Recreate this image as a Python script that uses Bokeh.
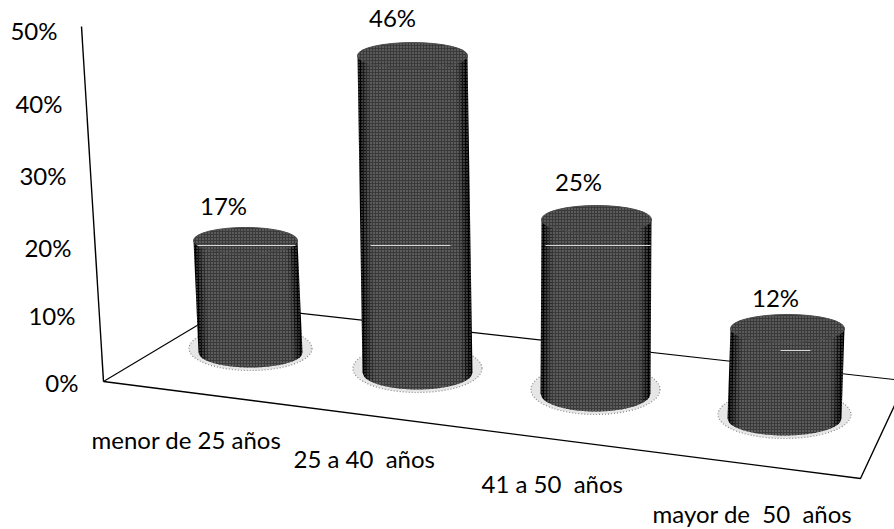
import numpy as np
from bokeh.core.properties import value
from bokeh.embed import file_html
from bokeh.models import Range1d
from bokeh.plotting import figure
from bokeh.resources import INLINE

# Chart data
categories = ["menor de 25 años", "25 a 40 \u00a0años", "41 a 50 \u00a0años", "mayor de \u00a050 \u00a0años"]
percent = [17, 46, 25, 12]
tick_labels = ["0%", "10%", "20%", "30%", "40%", "50%"]

# Perspective of the 3D scene, in page pixels
base_cx = [250, 417, 595, 784]
top_cx = [245, 412, 596, 787]
half_w = [52, 55, 55, 57]
base_cy = [352, 372, 393, 418]
px_per_pct = [6.59, 6.89, 6.96, 7.5]
top_ry = [13, 13, 14, 14]
base_ry = [15, 17, 18, 17]
tick_x = [78, 75, 71, 66, 62, 57]
tick_y = [382, 315, 247, 175, 103, 30]
label_x = [223, 392, 578, 775]
label_y = [205, 17, 181, 297]
cat_x = [91, 293, 481, 652]
cat_y = [439, 458, 483, 513]
glint_y = [245, 245, 245, 350]
glint_x0 = [197, 370, 545, 780]
glint_x1 = [295, 450, 650, 810]

FONT = value("Lato")
INK = "#000000"

p = figure(width=894, height=529, output_backend="svg", toolbar_location=None,
           x_range=Range1d(0, 894), y_range=Range1d(529, 0),
           x_axis_type=None, y_axis_type=None, min_border=0, outline_line_color=None)
p.grid.visible = False
p.background_fill_color = "white"
p.border_fill_color = "white"

# Wall edge and floor outline
p.line([81, 103], [26, 381], line_color=INK, line_width=1.4)
p.line([103, 860, 894], [381, 478, 405], line_color=INK, line_width=1.4)
p.line([103, 230], [381, 305], line_color=INK, line_width=1.1)
p.line([230, 894], [305, 379], line_color=INK, line_width=1.1)

# Grey level of each vertical strip, left to right across a cylinder
shades = [0.0, 0.1, 0.18] + [0.23] * 24 + [0.18, 0.08, 0.0]

for i, pct in enumerate(percent):
    yb = base_cy[i]
    yt = yb - pct * px_per_pct[i]
    hw = half_w[i]

    # Stippled shadow ring on the floor
    p.ellipse(x=base_cx[i], y=yb - 4, width=2 * hw + 19, height=2 * base_ry[i] + 14,
              fill_color="#e6e6e6", line_color="#8a8a8a", line_dash="1 2", line_width=1.2)

    # Cylinder body, drawn as vertical strips to shade it across its width
    n = len(shades)
    edges = np.linspace(-1, 1, n + 1)
    for k, shade in enumerate(shades):
        u0, u1 = edges[k], min(edges[k + 1] + 0.02, 1)
        us = np.linspace(u0, u1, 4)
        xb = base_cx[i] + us * hw
        yb_arc = yb + base_ry[i] * np.sqrt(np.clip(1 - us ** 2, 0, 1))
        xt = top_cx[i] + us * hw
        g = int(shade * 255)
        color = f"#{g:02x}{g:02x}{g:02x}"
        p.patch(list(xt) + list(xb[::-1]), [yt] * 4 + list(yb_arc[::-1]),
                fill_color=color, line_color=None)

    # Fine halftone dots over the body
    us = np.linspace(-1, 1, 41)
    xs = list(top_cx[i] + us * hw) + list(base_cx[i] + us[::-1] * hw)
    ys = [yt] * 41 + list(yb + base_ry[i] * np.sqrt(1 - us[::-1] ** 2))
    p.patch(xs, ys, fill_alpha=0, line_color=None, hatch_pattern="dot",
            hatch_color="#e4e4e4", hatch_scale=3, hatch_alpha=0.5, hatch_weight=1)

    # Cylinder cap
    p.ellipse(x=top_cx[i], y=yt, width=2 * hw, height=2 * top_ry[i],
              fill_color="#3a3a3a", line_color="#4a4a4a", line_width=1,
              hatch_pattern="dot", hatch_color="#d8d8d8", hatch_scale=3, hatch_alpha=0.5)

    # Gridline glinting through the cylinder
    p.line([glint_x0[i], glint_x1[i]], [glint_y[i], glint_y[i]], line_color="#d8d8d8", line_width=1)

text_style = dict(text_font=FONT, text_font_size="24px", text_color=INK)

p.text(x=tick_x, y=tick_y, text=tick_labels, text_align="right", text_baseline="middle", **text_style)
p.text(x=label_x, y=label_y, text=[f"{v}%" for v in percent], text_align="center",
       text_baseline="middle", **text_style)
p.text(x=cat_x, y=cat_y, text=categories, text_align="left", text_baseline="middle", **text_style)

open("out.html", "w").write(file_html(p, INLINE))
